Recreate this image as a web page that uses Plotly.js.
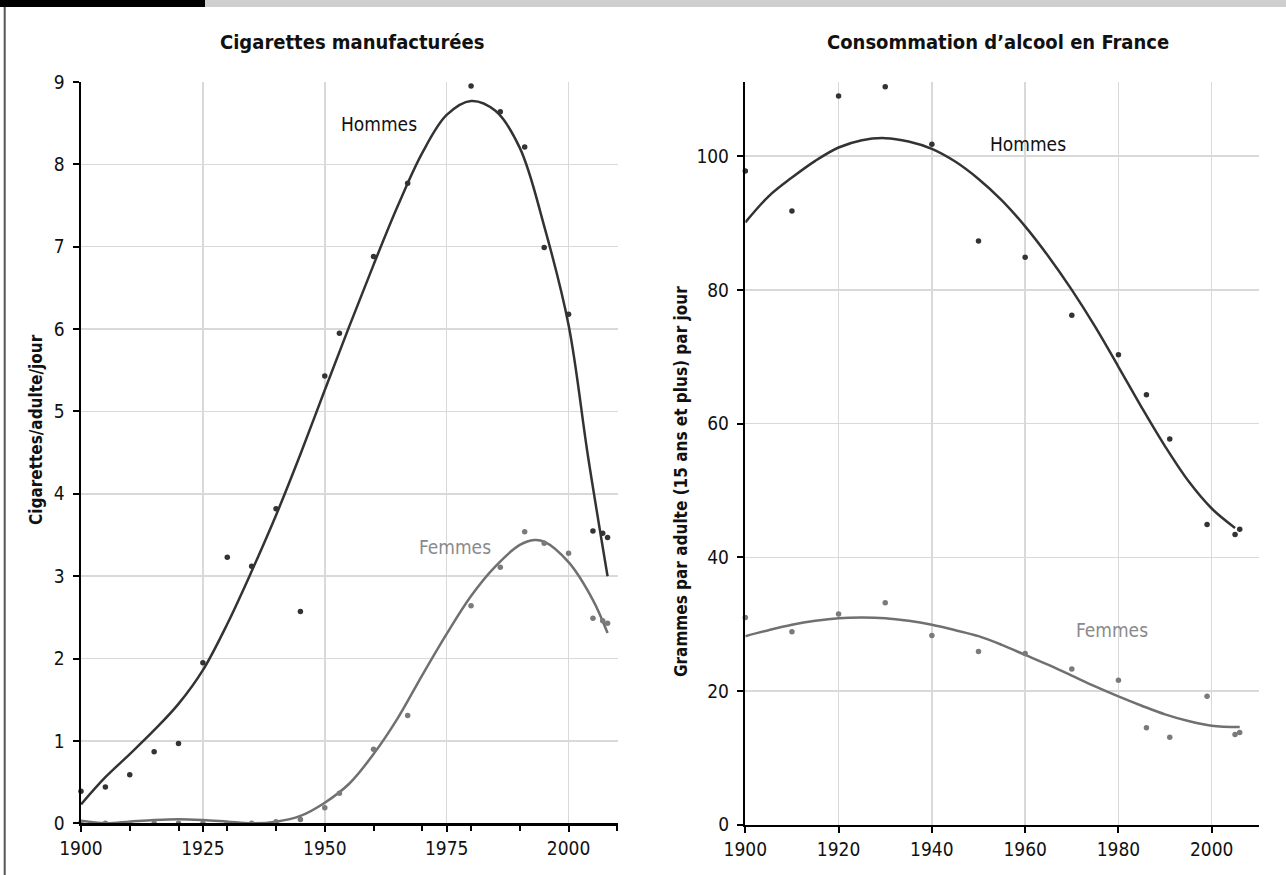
<!DOCTYPE html>
<html>
<head>
<meta charset="utf-8">
<script src="https://cdn.plot.ly/plotly-3.0.1.min.js"></script>
<style>html,body{margin:0;padding:0;background:#fff;}#chart{width:1286px;height:875px;}</style>
</head>
<body>
<div id="chart"></div>
<script>
// ---------- Cigarettes manufacturées (cigarettes / adulte / jour) ----------
const cigYears   = [1900,1905,1910,1915,1920,1925,1930,1935,1940,1945,1950,1953,1960,1967,1980,1986,1991,1995,2000,2005,2007,2008];
const cigHommes  = [0.39,0.44,0.59,0.87,0.97,1.95,3.23,3.12,3.82,2.57,5.43,5.95,6.88,7.77,8.95,8.64,8.21,6.99,6.18,3.55,3.52,3.47];
const cigFemmes  = [0.01,0.00,0.00,0.00,0.00,0.00,0.00,0.00,0.02,0.045,0.19,0.365,0.90,1.31,2.64,3.11,3.54,3.40,3.28,2.49,2.46,2.43];
const cigFitYears   = [1900,1905,1910,1915,1920,1925,1930,1935,1940,1945,1950,1955,1960,1965,1970,1975,1980,1985,1990,1995,2000,2004,2008];
const cigFitHommes  = [0.23,0.56,0.84,1.13,1.45,1.86,2.42,3.06,3.74,4.48,5.26,6.03,6.78,7.50,8.14,8.60,8.77,8.65,8.20,7.25,6.05,4.45,3.00];
const cigFitFemYears = [1900,1905,1910,1915,1920,1925,1930,1935,1940,1945,1950,1955,1960,1965,1970,1975,1980,1985,1990,1993,1995,2000,2005,2008];
const cigFitFemmes   = [0.03,0.00,0.02,0.04,0.05,0.04,0.02,0.00,0.02,0.09,0.25,0.48,0.84,1.28,1.80,2.30,2.76,3.12,3.38,3.44,3.42,3.17,2.71,2.31];
const cigXTicks = [1900,1925,1950,1975,2000];
const cigYTicks = [0,1,2,3,4,5,6,7,8,9];

// ---------- Consommation d'alcool en France (g / adulte / jour) ----------
const alcYears   = [1900,1910,1920,1930,1940,1950,1960,1970,1980,1986,1991,1999,2005,2006];
const alcHommes  = [97.8,91.8,109.0,110.4,101.8,87.3,84.9,76.2,70.3,64.3,57.7,44.9,43.4,44.2];
const alcFemmes  = [31.0,28.85,31.5,33.2,28.3,25.9,25.6,23.3,21.6,14.5,13.1,19.2,13.5,13.8];
const alcFitYears  = [1900,1905,1910,1915,1920,1925,1930,1935,1940,1945,1950,1955,1960,1965,1970,1975,1980,1985,1990,1995,2000,2005];
const alcFitHommes = [90.1,94.0,96.8,99.3,101.3,102.4,102.7,102.2,101.1,99.2,96.6,93.4,89.5,85.0,80.0,74.5,68.5,62.4,56.6,51.4,47.3,44.4];
const alcFitFemYears = [1900,1905,1910,1915,1920,1925,1930,1935,1940,1945,1950,1955,1960,1965,1970,1975,1980,1985,1990,1995,2000,2006];
const alcFitFemmes   = [28.2,29.1,29.9,30.5,30.9,31.0,30.9,30.5,29.9,29.1,28.2,26.9,25.4,23.9,22.3,20.7,19.2,17.8,16.5,15.5,14.8,14.6];
const alcXTicks = [1900,1920,1940,1960,1980,2000];
const alcYTicks = [0,20,40,60,80,100];

// ---------- styles ----------
const W = 1286, H = 875;
const px = v => v / W;
const py = v => 1 - v / H;
const FONT = "'DejaVu Sans Condensed', 'Liberation Sans Narrow', sans-serif";
const DARK = '#333333', GREY = '#707070', GRID = '#d9d9d9';

const traces = [
  {x: cigFitYears, y: cigFitHommes, mode: 'lines', line: {color: DARK, width: 2.5, shape: 'spline', smoothing: 1}, xaxis: 'x', yaxis: 'y', hoverinfo: 'skip'},
  {x: cigFitFemYears, y: cigFitFemmes, mode: 'lines', line: {color: GREY, width: 2.5, shape: 'spline', smoothing: 1}, xaxis: 'x', yaxis: 'y', hoverinfo: 'skip'},
  {x: cigYears, y: cigFemmes, mode: 'markers', marker: {color: '#7a7a7a', size: 5.5}, xaxis: 'x', yaxis: 'y', cliponaxis: false},
  {x: cigYears, y: cigHommes, mode: 'markers', marker: {color: DARK, size: 5.5}, xaxis: 'x', yaxis: 'y', cliponaxis: false},
  {x: alcFitYears, y: alcFitHommes, mode: 'lines', line: {color: DARK, width: 2.5, shape: 'spline', smoothing: 1}, xaxis: 'x2', yaxis: 'y2', hoverinfo: 'skip'},
  {x: alcFitFemYears, y: alcFitFemmes, mode: 'lines', line: {color: GREY, width: 2.5, shape: 'spline', smoothing: 1}, xaxis: 'x2', yaxis: 'y2', hoverinfo: 'skip'},
  {x: alcYears, y: alcFemmes, mode: 'markers', marker: {color: '#7a7a7a', size: 5.5}, xaxis: 'x2', yaxis: 'y2', cliponaxis: false},
  {x: alcYears, y: alcHommes, mode: 'markers', marker: {color: DARK, size: 5.5}, xaxis: 'x2', yaxis: 'y2', cliponaxis: false}
];

const axisCommon = {
  showline: true, linecolor: '#000', linewidth: 2.5,
  ticks: 'outside', tickcolor: '#000', tickwidth: 2, ticklen: 6,
  showgrid: true, gridcolor: GRID, gridwidth: 1.5,
  zeroline: false, tickfont: {family: FONT, size: 19, color: '#111'},
  fixedrange: true
};

const layout = {
  width: W, height: H,
  margin: {l: 0, r: 0, t: 0, b: 0},
  paper_bgcolor: '#fff', plot_bgcolor: '#fff',
  showlegend: false,
  font: {family: FONT, color: '#111'},
  xaxis: Object.assign({}, axisCommon, {
    domain: [px(81), px(618.3)], range: [1900, 2010.2], anchor: 'y',
    tickmode: 'array', tickvals: cigXTicks, ticktext: cigXTicks.map(String),
    minor: {dtick: 10, tick0: 1900, ticks: 'outside', ticklen: 5, tickwidth: 2, tickcolor: '#000', showgrid: false}
  }),
  yaxis: Object.assign({}, axisCommon, {
    domain: [py(823.3), py(82)], range: [0, 9], anchor: 'x',
    tickmode: 'array', tickvals: cigYTicks, ticktext: cigYTicks.map(String), ticklabelstandoff: 4
  }),
  xaxis2: Object.assign({}, axisCommon, {
    domain: [px(745.3), px(1259.3)], range: [1900, 2010.2], anchor: 'y2',
    tickmode: 'array', tickvals: alcXTicks, ticktext: alcXTicks.map(String)
  }),
  yaxis2: Object.assign({}, axisCommon, {
    domain: [py(824.7), py(82)], range: [0, 111.1], anchor: 'x2',
    tickmode: 'array', tickvals: alcYTicks, ticktext: alcYTicks.map(String), ticklabelstandoff: 4
  }),
  shapes: [
    {type: 'rect', xref: 'paper', yref: 'paper', x0: 0, x1: 1, y0: py(7), y1: 1, fillcolor: '#cfcfcf', line: {width: 0}, layer: 'below'},
    {type: 'rect', xref: 'paper', yref: 'paper', x0: 0, x1: px(205), y0: py(7), y1: 1, fillcolor: '#000', line: {width: 0}},
    {type: 'line', xref: 'paper', yref: 'paper', x0: px(4.7), x1: px(4.7), y0: 0, y1: py(7), line: {color: '#555', width: 2}}
  ],
  annotations: [
    {text: '<b>Cigarettes manufacturées</b>', xref: 'paper', yref: 'paper', x: px(352), y: py(42), showarrow: false, font: {family: FONT, size: 20, color: '#111'}, xanchor: 'center', yanchor: 'middle'},
    {text: '<b>Consommation d’alcool en France</b>', xref: 'paper', yref: 'paper', x: px(1171), y: py(42), showarrow: false, font: {family: FONT, size: 20, color: '#111'}, xanchor: 'right', yanchor: 'middle'},
    {text: '<b>Cigarettes/adulte/jour</b>', xref: 'paper', yref: 'paper', x: px(36), y: py(430), textangle: -90, showarrow: false, font: {family: FONT, size: 17, color: '#111'}, xanchor: 'center', yanchor: 'middle'},
    {text: '<b>Grammes par adulte (15 ans et plus) par jour</b>', xref: 'paper', yref: 'paper', x: px(681), y: py(482), textangle: -90, showarrow: false, font: {family: FONT, size: 17, color: '#111'}, xanchor: 'center', yanchor: 'middle'},
    {text: 'Hommes', xref: 'x', yref: 'y', x: 1961.2, y: 8.49, showarrow: false, font: {family: FONT, size: 19, color: '#111'}},
    {text: 'Femmes', xref: 'x', yref: 'y', x: 1976.7, y: 3.35, showarrow: false, font: {family: FONT, size: 19, color: '#8a8a8a'}},
    {text: 'Hommes', xref: 'x2', yref: 'y2', x: 1960.7, y: 101.9, showarrow: false, font: {family: FONT, size: 19, color: '#111'}},
    {text: 'Femmes', xref: 'x2', yref: 'y2', x: 1978.7, y: 29.1, showarrow: false, font: {family: FONT, size: 19, color: '#8a8a8a'}}
  ]
};

Plotly.newPlot('chart', traces, layout, {displayModeBar: false, staticPlot: true});
</script>
</body>
</html>
